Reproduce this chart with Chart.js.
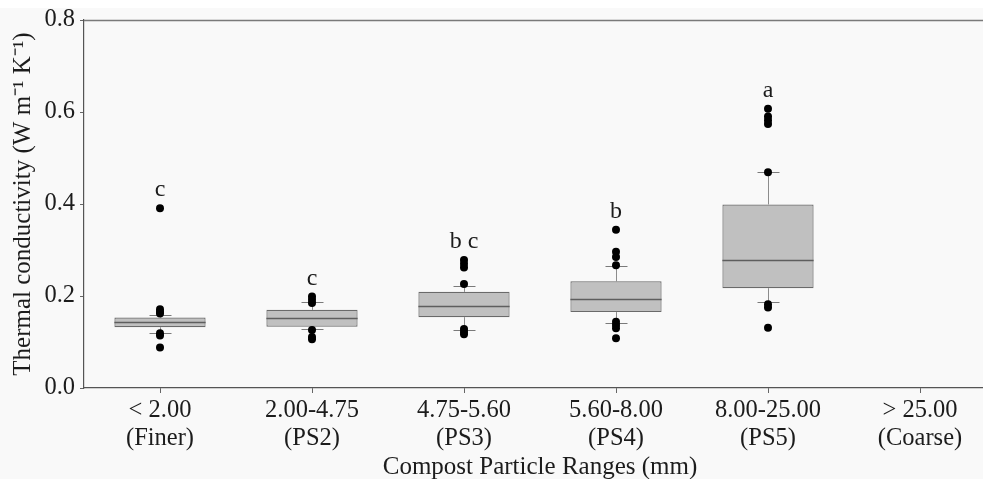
<!DOCTYPE html>
<html>
<head>
<meta charset="utf-8">
<script src="https://cdn.jsdelivr.net/npm/chart.js@4"></script>
<style>
html,body{margin:0;padding:0;background:#fff;overflow:hidden;}
#wrap{position:relative;width:1000px;height:479px;}
</style>
</head>
<body>
<div id="wrap"><canvas id="c"></canvas></div>
<script>
// ---- data ----
const categories = [
  ['< 2.00', '(Finer)'],
  ['2.00-4.75', '(PS2)'],
  ['4.75-5.60', '(PS3)'],
  ['5.60-8.00', '(PS4)'],
  ['8.00-25.00', '(PS5)'],
  ['> 25.00', '(Coarse)']
];
const whiskerLow  = [0.120, 0.128, 0.126, 0.141, 0.188, null];
const q1          = [0.132, 0.133, 0.154, 0.165, 0.217, null];
const median      = [0.144, 0.153, 0.179, 0.193, 0.278, null];
const q3          = [0.153, 0.170, 0.209, 0.232, 0.399, null];
const whiskerHigh = [0.158, 0.186, 0.222, 0.266, 0.469, null];
const outliers = [
  [0.391, 0.171, 0.166, 0.162, 0.119, 0.114, 0.088],
  [0.199, 0.192, 0.185, 0.126, 0.111, 0.106],
  [0.278, 0.270, 0.262, 0.226, 0.128, 0.122, 0.117],
  [0.344, 0.296, 0.285, 0.267, 0.144, 0.137, 0.130, 0.108],
  [0.607, 0.590, 0.582, 0.574, 0.469, 0.182, 0.175, 0.131],
  []
];
const letters = ['c', 'c', 'b c', 'b', 'a', ''];
const yTicks = [0.0, 0.2, 0.4, 0.6, 0.8];
const xTitle = 'Compost Particle Ranges (mm)';
const yTitle = 'Thermal conductivity (W m\u207B\u00B9 K\u207B\u00B9)';

// ---- build datasets ----
const boxData = categories.map((_, i) => (q1[i] == null ? null : [q1[i], q3[i]]));
const maxOut = Math.max(...outliers.map(o => o.length));
const pointSets = [];
for (let k = 0; k < maxOut; k++) {
  pointSets.push({
    type: 'line',
    data: categories.map((_, i) => (outliers[i][k] !== undefined ? outliers[i][k] : null)),
    showLine: false,
    pointRadius: 4,
    pointHoverRadius: 4,
    pointBackgroundColor: '#000',
    pointBorderColor: '#000',
    pointBorderWidth: 0,
    order: 0
  });
}

const FONT = "'Liberation Serif', 'Times New Roman', serif";
const TXT = '#1c1c1c';

const bgPlugin = {
  id: 'bg',
  beforeDraw(chart) {
    const ctx = chart.ctx;
    ctx.save();
    ctx.fillStyle = '#f9f9f9';
    ctx.fillRect(0, 8, chart.width, chart.height - 8);
    ctx.restore();
  }
};

const boxPlugin = {
  id: 'boxparts',
  beforeDatasetsDraw(chart) {
    const ctx = chart.ctx, x = chart.scales.x, y = chart.scales.y;
    ctx.save();
    // top frame line
    ctx.strokeStyle = '#7a7a7a';
    ctx.lineWidth = 1.5;
    ctx.beginPath();
    ctx.moveTo(chart.chartArea.left, Math.round(chart.chartArea.top) + 0.5);
    ctx.lineTo(chart.width, Math.round(chart.chartArea.top) + 0.5);
    ctx.stroke();
    // whiskers
    categories.forEach((_, i) => {
      if (q1[i] == null) return;
      const cx = Math.round(x.getPixelForValue(i)) + 0.5;
      ctx.strokeStyle = '#8c8c8c';
      ctx.lineWidth = 1;
      ctx.beginPath();
      ctx.moveTo(cx, y.getPixelForValue(whiskerLow[i]));
      ctx.lineTo(cx, y.getPixelForValue(q1[i]));
      ctx.moveTo(cx, y.getPixelForValue(q3[i]));
      ctx.lineTo(cx, y.getPixelForValue(whiskerHigh[i]));
      ctx.stroke();
      ctx.strokeStyle = '#7a7a7a';
      ctx.beginPath();
      [whiskerLow[i], whiskerHigh[i]].forEach(v => {
        const py = Math.round(y.getPixelForValue(v)) + 0.5;
        ctx.moveTo(cx - 11, py);
        ctx.lineTo(cx + 11, py);
      });
      ctx.stroke();
    });
    ctx.restore();
  },
  afterDatasetsDraw(chart) {
    const ctx = chart.ctx, x = chart.scales.x, y = chart.scales.y;
    const meta = chart.getDatasetMeta(0);
    ctx.save();
    categories.forEach((_, i) => {
      if (median[i] == null) return;
      const bar = meta.data[i];
      const half = bar.width / 2;
      const cx = x.getPixelForValue(i);
      const py = Math.round(y.getPixelForValue(median[i])) + 0.5;
      ctx.strokeStyle = '#5e5e5e';
      ctx.lineWidth = 1.5;
      ctx.beginPath();
      ctx.moveTo(cx - half, py);
      ctx.lineTo(cx + half, py);
      ctx.stroke();
    });
    // significance letters
    ctx.fillStyle = TXT;
    ctx.font = '24px ' + FONT;
    ctx.textAlign = 'center';
    ctx.textBaseline = 'bottom';
    categories.forEach((_, i) => {
      if (!letters[i]) return;
      const top = Math.max(...outliers[i], whiskerHigh[i]);
      ctx.fillText(letters[i], x.getPixelForValue(i), y.getPixelForValue(top) - 6);
    });
    ctx.restore();
  }
};

new Chart(document.getElementById('c'), {
  type: 'bar',
  data: {
    labels: categories,
    datasets: [{
      type: 'bar',
      data: boxData,
      backgroundColor: '#c0c0c0',
      borderColor: '#6a6a6a',
      borderWidth: 1.2,
      borderSkipped: false,
      barPercentage: 0.6,
      categoryPercentage: 1.0,
      order: 1
    }, ...pointSets]
  },
  options: {
    responsive: true,
    maintainAspectRatio: false,
    animation: false,
    events: [],
    layout: { padding: { top: 20, right: 4, left: 0, bottom: 0 } },
    plugins: { legend: { display: false }, tooltip: { enabled: false } },
    scales: {
      x: {
        type: 'category',
        offset: true,
        grid: { display: true, offset: false, drawOnChartArea: false, drawTicks: true, tickLength: 5, color: '#666' },
        border: { display: true, color: '#555', width: 1.2 },
        ticks: {
          color: TXT,
          font: { family: FONT, size: 24.5, lineHeight: 1.143 },
          padding: 4,
          maxRotation: 0,
          autoSkip: false
        },
        title: {
          display: true,
          text: xTitle,
          color: TXT,
          font: { family: FONT, size: 25 },
          padding: { top: 0, bottom: -3 }
        },
        afterFit(s) { s.height = 91; }
      },
      y: {
        min: 0, max: 0.8,
        afterBuildTicks(s) { s.ticks = yTicks.map(v => ({ value: v })); },
        grid: { display: true, drawOnChartArea: false, drawTicks: true, tickLength: 4, color: '#666' },
        border: { display: true, color: '#555', width: 1.2 },
        ticks: {
          color: TXT,
          font: { family: FONT, size: 24.5 },
          padding: 5,
          callback: v => Number(v).toFixed(1)
        },
        title: {
          display: true,
          text: yTitle,
          color: TXT,
          font: { family: FONT, size: 25 },
          padding: { top: 8, bottom: 0 }
        },
        afterFit(s) { s.width = 84; }
      }
    }
  },
  plugins: [bgPlugin, boxPlugin]
});
</script>
</body>
</html>
